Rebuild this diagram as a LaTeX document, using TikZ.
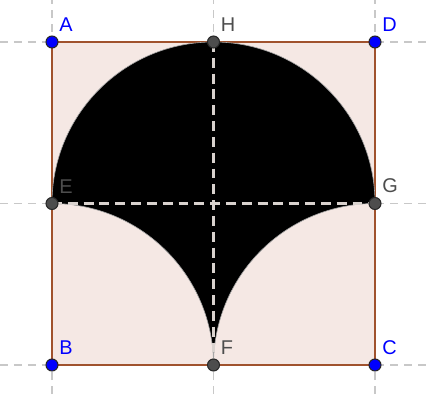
\documentclass[tikz,border=0pt]{standalone}
\usepackage{fontspec}
\setmainfont{Liberation Sans}
\usepackage{xcolor}
\usepackage{tikz}
\usetikzlibrary{positioning,calc}
\definecolor{squarefill}{HTML}{F5E8E4}
\definecolor{squareedge}{HTML}{A0522D}
\definecolor{gridgray}{HTML}{C8C8C8}
\definecolor{innerdash}{HTML}{D9D2CE}
\definecolor{ptblue}{HTML}{0000FF}
\definecolor{ptgray}{HTML}{4D4D4D}
\tikzset{
	gridline/.style={
		draw=gridgray,
		line width=1.6pt,
		dash pattern=on 6.8pt off 5.1pt
	},
	midline/.style={
		draw=innerdash,
		line width=2.3pt,
		dash pattern=on 8.5pt off 5pt
	},
	bluept/.style={
		circle,
		draw=black!85,
		fill=ptblue,
		line width=0.9pt,
		minimum size=3.6mm,
		inner sep=0pt
	},
	graypt/.style={
		circle,
		draw=black!85,
		fill=ptgray,
		line width=0.9pt,
		minimum size=3.6mm,
		inner sep=0pt
	},
	lbl/.style={
		font=\fontsize{17}{17}\selectfont,
		anchor=south west,
		inner sep=1pt
	}
}
\begin{document}
\begin{tikzpicture}[x=0.03cm, y=0.03cm]
	\useasboundingbox (0,0) rectangle (427,394);
	
	%--------------------
	% Grid lines
	%--------------------
	\foreach \gx in {52,213.5,375} {
		\draw[gridline] (\gx,0) -- (\gx,394);
	}
	\foreach \gy in {29,190.5,352} {
		\draw[gridline] (0,\gy) -- (427,\gy);
	}
	
	%--------------------
	% Points
	%--------------------
	\coordinate (A) at (52,352);
	\coordinate (H) at (213.5,352);
	\coordinate (D) at (375,352);
	\coordinate (E) at (52,190.5);
	\coordinate (G) at (375,190.5);
	\coordinate (B) at (52,29);
	\coordinate (F) at (213.5,29);
	\coordinate (C) at (375,29);
	
	%--------------------
	% Square
	%--------------------
	\draw[fill=squarefill, draw=squareedge, line width=1.5pt]
		(A) -- (D) -- (C) -- (B) -- cycle;
	
	%--------------------
	% Black region
	%--------------------
	\draw[fill=black, draw=black!35, line width=0.5pt]
		(E) arc[start angle=180, end angle=0, radius=161.5]
		    arc[start angle=90, end angle=180, radius=161.5]
		    arc[start angle=0, end angle=90, radius=161.5] -- cycle;
	
	\draw[midline] (E) -- (G);
	\draw[midline] (H) -- (F);
	
	%--------------------
	% Point marks
	%--------------------
	\foreach \p in {A,D,B,C} {
		\node[bluept] (p\p) at (\p) {};
	}
	\foreach \p in {H,E,G,F} {
		\node[graypt] (p\p) at (\p) {};
	}
	
	%--------------------
	% Labels
	%--------------------
	\foreach \p in {A,D,B,C} {
		\node[lbl, text=ptblue] (l\p) at ($(\p)+(6,9)$) {\p};
	}
	\foreach \p in {H,E,G,F} {
		\node[lbl, text=ptgray] (l\p) at ($(\p)+(6,9)$) {\p};
	}
	
\end{tikzpicture}
\end{document}
